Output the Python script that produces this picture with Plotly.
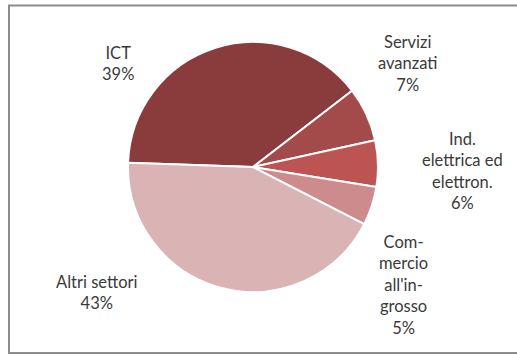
import plotly.graph_objects as go

# Sector shares (%), clockwise from the ICT slice
labels = ["ICT", "Servizi<br>avanzati", "Ind.<br>elettrica ed<br>elettron.",
          "Com-<br>mercio<br>all'in-<br>grosso", "Altri settori"]
values = [39, 7, 6, 5, 43]
colors = ["#8a3b3c", "#a34a4b", "#bc5453", "#cd8b8d", "#dab3b4"]

W, H = 517, 355

# Label block centres in pixels (x from left, y from top)
label_pos = [(118, 64), (407, 64), (462, 171), (403, 285), (97, 292)]

# Pie placement: centre and radius in pixels
cx, cy, r = 253, 167, 125

fig = go.Figure(go.Pie(
    labels=[l.replace("<br>", " ") for l in labels],
    values=values,
    sort=False,
    direction="clockwise",
    rotation=-88,
    marker=dict(colors=colors, line=dict(color="white", width=2)),
    textinfo="none",
    hoverinfo="label+percent",
    showlegend=False,
    domain=dict(x=[(cx - r) / W, (cx + r) / W],
                y=[1 - (cy + r) / H, 1 - (cy - r) / H]),
))

annotations = []
for lab, val, (px, py) in zip(labels, values, label_pos):
    annotations.append(dict(
        x=px / W, y=1 - py / H, xref="paper", yref="paper",
        text=f"{lab}<br>{val}%", showarrow=False,
        xanchor="center", yanchor="middle", align="center",
        font=dict(family="Lato, 'Open Sans', sans-serif", size=16.5, color="#3a3a3a"),
    ))

fig.update_layout(
    width=W, height=H,
    margin=dict(l=0, r=0, t=0, b=0),
    paper_bgcolor="white", plot_bgcolor="white",
    annotations=annotations,
    shapes=[dict(type="rect", xref="paper", yref="paper",
                 x0=9 / W, x1=1.02, y0=1 - 353 / H, y1=1 - 5.5 / H,
                 line=dict(color="#8c8c8c", width=2), layer="below")],
)

fig.write_html("out.html")
